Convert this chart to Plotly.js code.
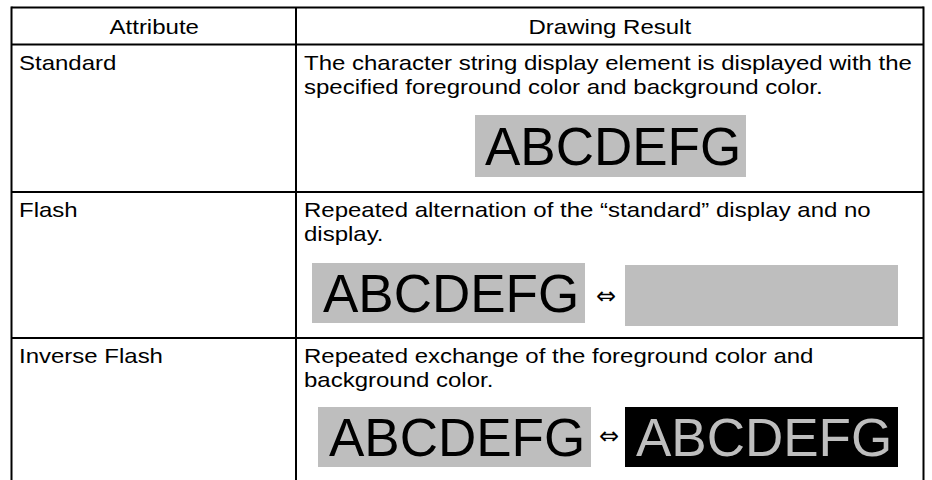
<!DOCTYPE html>
<html><head><meta charset="utf-8">
<script src="https://cdn.plot.ly/plotly-3.0.1.min.js"></script>
<style>body{margin:0;background:#fff;overflow:hidden}</style>
</head><body>
<div id="chart" style="width:932px;height:480px"></div>
<script>
// ---- content ----
const headers = ['Attribute', 'Drawing Result'];
const attributes = ['Standard', 'Flash', 'Inverse Flash'];
const descriptions = [
  ['The character string display element is displayed with the', 'specified foreground color and background color.'],
  ['Repeated alternation of the \u201cstandard\u201d display and no', 'display.'],
  ['Repeated exchange of the foreground color and', 'background color.']
];
const sampleText = 'ABCDEFG';
const arrowText = '\u21d4';

// ---- geometry / style ----
const GRAY = '#bebebe';
const FONT = 'Liberation Sans, Arial, Helvetica, sans-serif';
const X0 = 11.5, XC = 296, X1 = 923.5;
const Y0 = 7.5, YH = 44.5;
const rowTops = [YH, 192, 338];
const rowEnd = 484;
const samples = [
  {boxes: [{x0: 475, x1: 746, y0: 115, y1: 177, fill: GRAY, txt: '#000', showText: true}]},
  {boxes: [{x0: 312, x1: 585, y0: 263, y1: 323, fill: GRAY, txt: '#000', showText: true},
           {x0: 625, x1: 898, y0: 265, y1: 326, fill: GRAY, txt: '#000', showText: false}],
   arrow: {x: 606, y: 296}},
  {boxes: [{x0: 318, x1: 591, y0: 407, y1: 467, fill: GRAY, txt: '#000', showText: true},
           {x0: 625, x1: 898, y0: 407, y1: 467, fill: '#000', txt: GRAY, showText: true}],
   arrow: {x: 609, y: 436}}
];

const shapes = [];
const annotations = [];
const line = (x0, y0, x1, y1) => shapes.push({type: 'line', xref: 'x', yref: 'y', x0, y0, x1, y1, line: {color: '#000', width: 2}});

// borders
line(X0, Y0, X1, Y0);
line(X0, Y0 - 1, X0, rowEnd);
line(X1, Y0 - 1, X1, rowEnd);
line(XC, Y0, XC, rowEnd);
line(X0, YH, X1, YH);
rowTops.slice(1).forEach(y => line(X0, y, X1, y));

const small = {family: FONT, size: 20, color: '#000'};
const ann = (o) => annotations.push(Object.assign({xref: 'x', yref: 'y', showarrow: false, borderpad: 0}, o));

// header
ann({x: (X0 + XC) / 2, y: (Y0 + YH) / 2 + 0.5, text: headers[0], font: small, xanchor: 'center', yanchor: 'middle'});
ann({x: (XC + X1) / 2, y: (Y0 + YH) / 2 + 0.5, text: headers[1], font: small, xanchor: 'center', yanchor: 'middle'});

attributes.forEach((a, i) => {
  const top = rowTops[i];
  ann({x: 17.5, y: top + 18, text: a, font: small, xanchor: 'left', yanchor: 'middle', align: 'left'});
  descriptions[i].forEach((t, k) => {
    ann({x: 303, y: top + 18 + k * 24, text: t, font: small, xanchor: 'left', yanchor: 'middle', align: 'left'});
  });
  const s = samples[i];
  s.boxes.forEach(b => {
    shapes.push({type: 'rect', xref: 'x', yref: 'y', x0: b.x0, x1: b.x1, y0: b.y0, y1: b.y1,
                 fillcolor: b.fill, line: {width: 0}, layer: 'below'});
    if (b.showText) {
      ann({x: (b.x0 + b.x1) / 2 + 2, y: (b.y0 + b.y1) / 2, text: sampleText,
           font: {family: FONT, size: 53, color: b.txt}, xanchor: 'center', yanchor: 'middle'});
    }
  });
  if (s.arrow) {
    ann({x: s.arrow.x, y: s.arrow.y, text: arrowText, font: {family: 'DejaVu Sans', size: 24, color: '#000'},
         xanchor: 'center', yanchor: 'middle'});
  }
});

const layout = {
  width: 932, height: 480,
  margin: {l: 0, r: 0, t: 0, b: 0, pad: 0},
  paper_bgcolor: '#fff', plot_bgcolor: '#fff',
  showlegend: false,
  xaxis: {range: [0, 932], visible: false, fixedrange: true},
  yaxis: {range: [480, 0], visible: false, fixedrange: true},
  shapes, annotations
};

Plotly.newPlot('chart', [{type: 'scatter', x: [], y: [], hoverinfo: 'skip'}], layout,
  {staticPlot: true, displayModeBar: false}).then(() => {
  // the reference's body text is a horizontally wide Helvetica: widen it
  document.querySelectorAll('text.annotation-text').forEach(t => {
    if (/font-size:\s*20px/.test(t.getAttribute('style') || '')) {
      const anchor = t.getAttribute('text-anchor');
      t.style.transformBox = 'fill-box';
      t.style.transformOrigin = anchor === 'start' ? 'left center' : 'center center';
      t.style.transform = 'scaleX(1.2)';
    }
  });
});
</script>
</body></html>
